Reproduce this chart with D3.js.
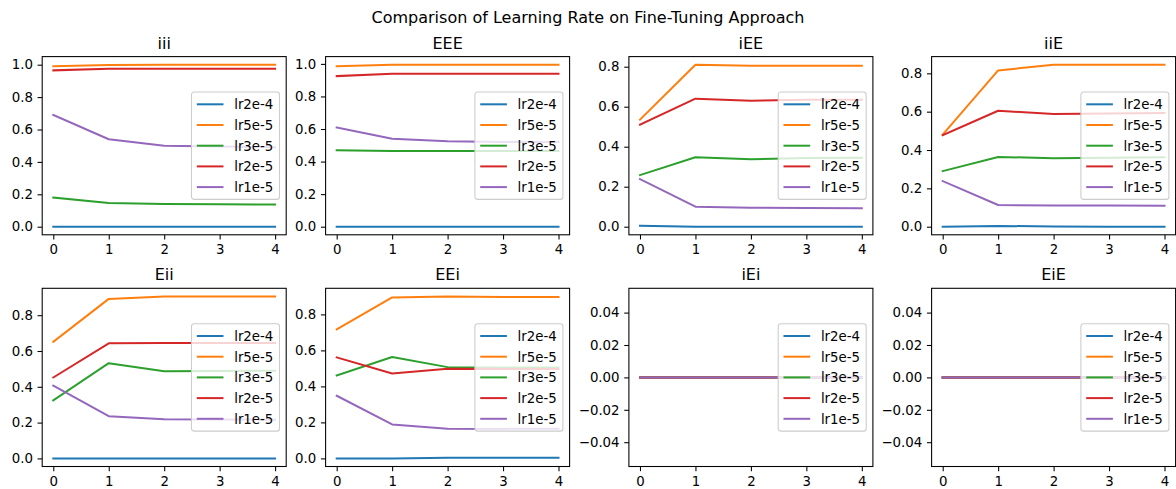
<!DOCTYPE html>
<html>
<head>
<meta charset="utf-8">
<script src="https://d3js.org/d3.v7.min.js"></script>
<style>
  body { margin: 0; background: #ffffff; }
  text { font-family: "DejaVu Sans", sans-serif; fill: #000000; }
</style>
</head>
<body>
<svg width="1176" height="489"></svg>
<script>
// series in legend order
var seriesNames = ["lr2e-4", "lr5e-5", "lr3e-5", "lr2e-5", "lr1e-5"];
var colors = ["#1f77b4", "#ff7f0e", "#2ca02c", "#d62728", "#9467bd"];
var epochs = [0, 1, 2, 3, 4];
var panelTitles = ["iii", "EEE", "iEE", "iiE", "Eii", "EEi", "iEi", "EiE"];

// one row per series (same order as seriesNames)
var iii = [
  [0, 0, 0, 0, 0],
  [0.99, 0.998, 1.0, 1.0, 1.0],
  [0.18, 0.146, 0.14, 0.138, 0.137],
  [0.965, 0.975, 0.975, 0.975, 0.975],
  [0.69, 0.54, 0.50, 0.495, 0.49]
];
var EEE = [
  [0, 0, 0, 0, 0],
  [0.985, 0.995, 0.995, 0.995, 0.995],
  [0.47, 0.465, 0.465, 0.465, 0.465],
  [0.925, 0.94, 0.94, 0.94, 0.94],
  [0.61, 0.54, 0.525, 0.52, 0.52]
];
var iEE = [
  [0.005, 0, 0, 0, 0],
  [0.535, 0.81, 0.805, 0.805, 0.805],
  [0.258, 0.347, 0.337, 0.343, 0.345],
  [0.51, 0.64, 0.63, 0.635, 0.635],
  [0.238, 0.10, 0.095, 0.093, 0.092]
];
var iiE = [
  [0, 0.004, 0.001, 0, 0],
  [0.48, 0.815, 0.845, 0.845, 0.845],
  [0.29, 0.364, 0.357, 0.36, 0.362],
  [0.477, 0.605, 0.588, 0.59, 0.593],
  [0.238, 0.113, 0.11, 0.11, 0.109]
];
var Eii = [
  [0, 0, 0, 0, 0],
  [0.651, 0.891, 0.904, 0.904, 0.905],
  [0.324, 0.532, 0.487, 0.488, 0.49],
  [0.452, 0.643, 0.645, 0.645, 0.645],
  [0.406, 0.236, 0.219, 0.218, 0.216]
];
var EEi = [
  [0, 0, 0.003, 0.004, 0.004],
  [0.717, 0.894, 0.9, 0.897, 0.896],
  [0.461, 0.563, 0.507, 0.505, 0.505],
  [0.561, 0.472, 0.498, 0.497, 0.497],
  [0.348, 0.189, 0.165, 0.164, 0.165]
];
var iEi = [
  [0, 0, 0, 0, 0],
  [0, 0, 0, 0, 0],
  [0, 0, 0, 0, 0],
  [0, 0, 0, 0, 0],
  [0, 0, 0, 0, 0]
];
var EiE = [
  [0, 0, 0, 0, 0],
  [0, 0, 0, 0, 0],
  [0, 0, 0, 0, 0],
  [0, 0, 0, 0, 0],
  [0, 0, 0, 0, 0]
];
var panelData = [iii, EEE, iEE, iiE, Eii, EEi, iEi, EiE];

// tick labels
var xTicks = [0, 1, 2, 3, 4];
var yTicksUnit = [0, 0.2, 0.4, 0.6, 0.8, 1.0];
var yTicksHigh = [0, 0.2, 0.4, 0.6, 0.8];
var yTicksZero = [-0.04, -0.02, 0, 0.02, 0.04];
var panelYTicks = [yTicksUnit, yTicksUnit, yTicksHigh, yTicksHigh, yTicksHigh, yTicksHigh, yTicksZero, yTicksZero];
var panelYFormat = [".1f", ".1f", ".1f", ".1f", ".1f", ".1f", ".2f", ".2f"];

var svg = d3.select("svg");
var colLeft = [42.2, 325.6, 628.9, 931.6],
    rowTop = [56.6, 288.3],
    axW = 244, axH = 178.2;
var fs = 13.33, tickLen = 4.67, tickPad = 4.67;

svg.append("text")
  .attr("x", 588).attr("y", 23)
  .attr("text-anchor", "middle")
  .style("font-size", "16px")
  .text("Comparison of Learning Rate on Fine-Tuning Approach");

panelData.forEach(function(rows, p) {
  var x0 = colLeft[p % 4], y0 = rowTop[Math.floor(p / 4)];
  var g = svg.append("g").attr("transform", "translate(" + x0 + "," + y0 + ")");

  var all = d3.merge(rows);
  var lo = d3.min(all), hi = d3.max(all);
  if (hi - lo < 1e-9) { lo -= 0.05; hi += 0.05; }
  var m = (hi - lo) * 0.05;

  var xScale = d3.scaleLinear().domain([-0.2, 4.2]).range([0, axW]);
  var yScale = d3.scaleLinear().domain([lo - m, hi + m]).range([axH, 0]);

  var clipId = "clip" + p;
  g.append("clipPath").attr("id", clipId)
    .append("rect").attr("width", axW).attr("height", axH);

  var line = d3.line()
    .x(function(d, i) { return xScale(epochs[i]); })
    .y(function(d) { return yScale(d); });

  g.append("g").attr("clip-path", "url(#" + clipId + ")")
    .selectAll("path")
    .data(rows)
    .enter()
    .append("path")
    .attr("d", line)
    .attr("fill", "none")
    .attr("stroke", function(d, i) { return colors[i]; })
    .attr("stroke-width", 2)
    .attr("stroke-linejoin", "round")
    .attr("stroke-linecap", "square");

  // axes
  var xAxis = d3.axisBottom(xScale).tickValues(xTicks).tickSize(tickLen).tickPadding(tickPad).tickFormat(d3.format("d"));
  var yAxis = d3.axisLeft(yScale).tickValues(panelYTicks[p]).tickSize(tickLen).tickPadding(tickPad).tickFormat(d3.format(panelYFormat[p]));

  var gx = g.append("g").attr("transform", "translate(0," + axH + ")").call(xAxis);
  var gy = g.append("g").call(yAxis);
  [gx, gy].forEach(function(a) {
    a.select(".domain").remove();
    a.selectAll(".tick line").attr("stroke", "#000").attr("stroke-width", 1.07);
    a.selectAll(".tick text").style("font-size", fs + "px").attr("fill", "#000");
  });
  gx.selectAll(".tick text").attr("dy", "0.75em");

  // legend
  var rowH = 20.7, pad = 5.3, handle = 26.7, gap = 10.7;
  var legW = 88, legH = pad * 2 + rowH * 4 + 14;
  var lx = axW - 6.7 - legW, ly = axH / 2 - legH / 2;
  var leg = g.append("g").attr("transform", "translate(" + lx + "," + ly + ")");
  leg.append("rect")
    .attr("width", legW).attr("height", legH)
    .attr("rx", 2.7).attr("ry", 2.7)
    .attr("fill", "#ffffff").attr("fill-opacity", 0.8)
    .attr("stroke", "#cccccc").attr("stroke-width", 1.07);
  var items = leg.selectAll(".item")
    .data(seriesNames)
    .enter()
    .append("g")
    .attr("class", "item")
    .attr("transform", function(d, i) { return "translate(" + pad + "," + (pad + 7 + i * rowH) + ")"; });
  items.append("line")
    .attr("x1", 0).attr("x2", handle)
    .attr("stroke", function(d, i) { return colors[i]; })
    .attr("stroke-width", 2);
  items.append("text")
    .attr("x", handle + gap)
    .attr("dy", "0.36em")
    .style("font-size", fs + "px")
    .text(function(d) { return d; });

  // frame
  g.append("rect")
    .attr("width", axW).attr("height", axH)
    .attr("fill", "none").attr("stroke", "#000").attr("stroke-width", 1.07);

  g.append("text")
    .attr("x", axW / 2).attr("y", -8)
    .attr("text-anchor", "middle")
    .style("font-size", "16px")
    .text(panelTitles[p]);
});
</script>
</body>
</html>
